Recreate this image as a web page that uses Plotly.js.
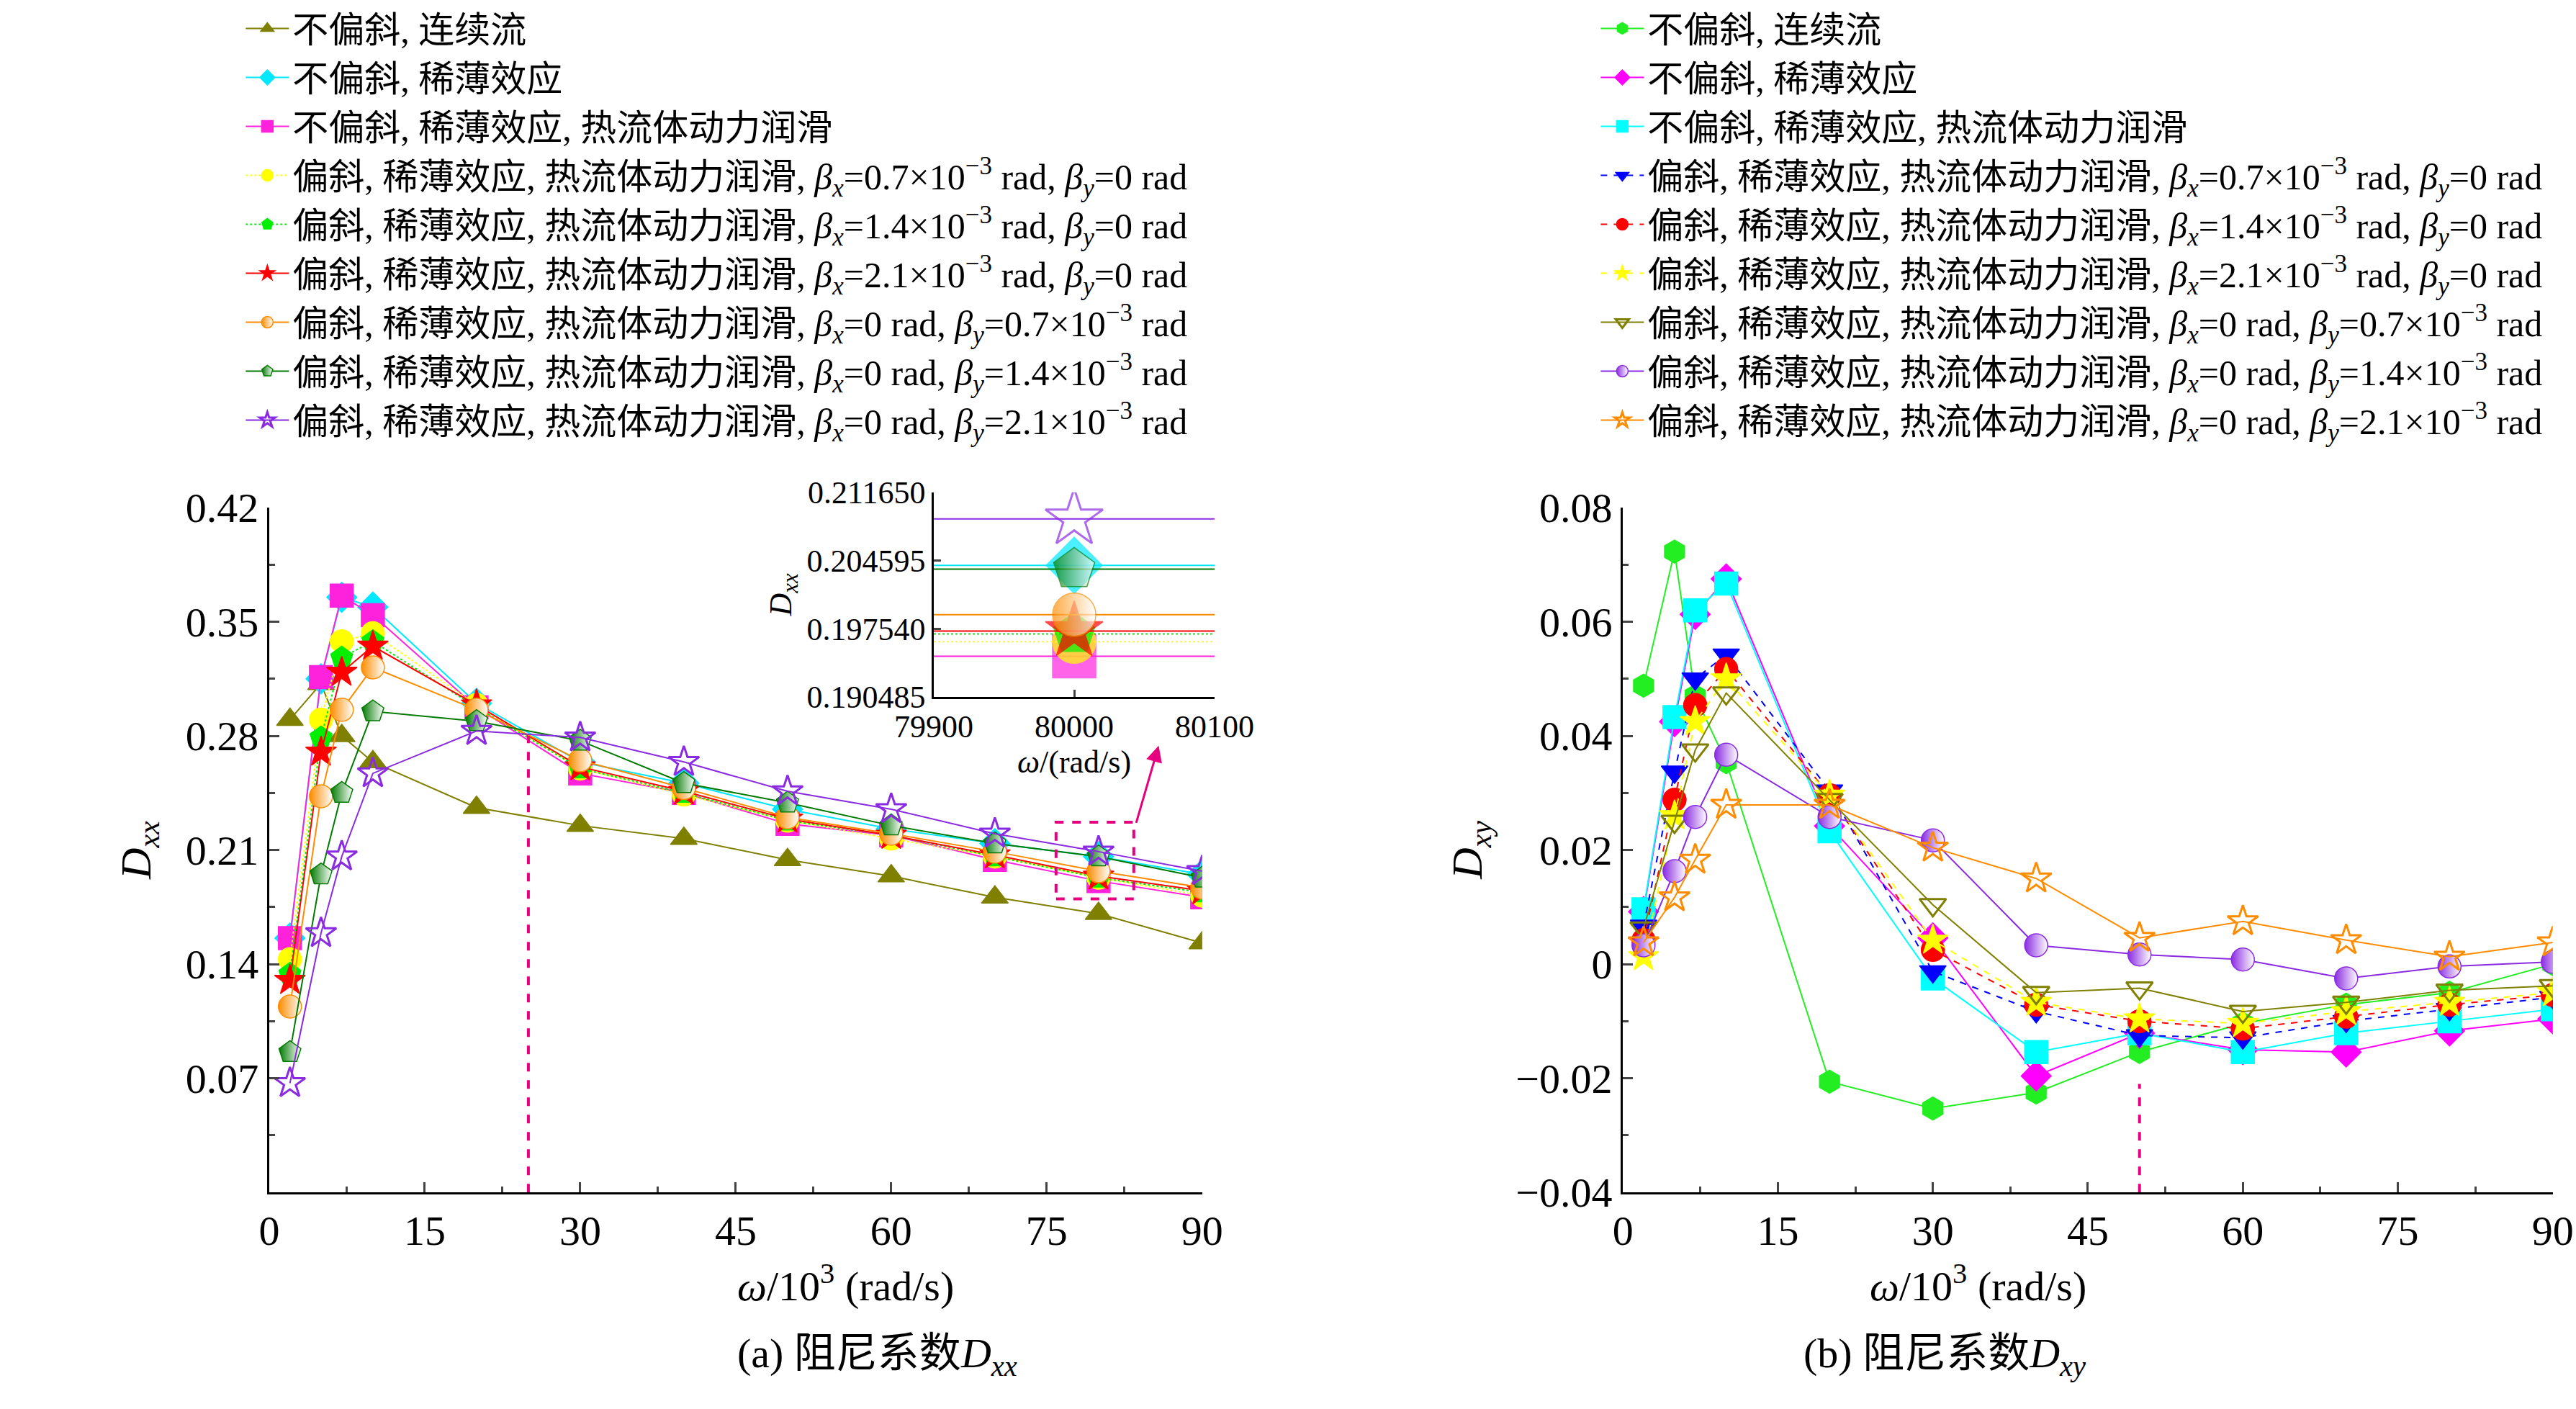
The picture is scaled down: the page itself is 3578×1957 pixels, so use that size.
<!DOCTYPE html>
<html><head><meta charset="utf-8">
<script src="https://cdn.plot.ly/plotly-3.0.1.min.js"></script>
<style>body{margin:0}#g{width:3578px;height:1957px}</style></head>
<body><div id="g"></div><script>
const omega=[2,5,7,10,20,30,40,50,60,70,80,90];
const namesA=["不偏斜, 连续流","不偏斜, 稀薄效应","不偏斜, 稀薄效应, 热流体动力润滑",
"偏斜, 稀薄效应, 热流体动力润滑, <i>β<sub>x</sub></i>=0.7×10<sup>−3</sup> rad, <i>β<sub>y</sub></i>=0 rad",
"偏斜, 稀薄效应, 热流体动力润滑, <i>β<sub>x</sub></i>=1.4×10<sup>−3</sup> rad, <i>β<sub>y</sub></i>=0 rad",
"偏斜, 稀薄效应, 热流体动力润滑, <i>β<sub>x</sub></i>=2.1×10<sup>−3</sup> rad, <i>β<sub>y</sub></i>=0 rad",
"偏斜, 稀薄效应, 热流体动力润滑, <i>β<sub>x</sub></i>=0 rad, <i>β<sub>y</sub></i>=0.7×10<sup>−3</sup> rad",
"偏斜, 稀薄效应, 热流体动力润滑, <i>β<sub>x</sub></i>=0 rad, <i>β<sub>y</sub></i>=1.4×10<sup>−3</sup> rad",
"偏斜, 稀薄效应, 热流体动力润滑, <i>β<sub>x</sub></i>=0 rad, <i>β<sub>y</sub></i>=2.1×10<sup>−3</sup> rad"];
const Dxx=[
[0.290,0.312,0.280,0.264,0.236,0.225,0.217,0.204,0.194,0.181,0.171,0.153],
[0.156,0.315,0.365,0.359,0.300,0.264,0.251,0.235,0.223,0.214,0.206,0.195],
[0.156,0.316,0.366,0.354,0.2975,0.257,0.245,0.226,0.219,0.204,0.191,0.181],
[0.143,0.290,0.338,0.343,0.299,0.260,0.244,0.228,0.217,0.206,0.193,0.182],
[0.134,0.279,0.328,0.338,0.2975,0.260,0.245,0.228,0.219,0.206,0.193,0.184],
[0.130,0.270,0.319,0.335,0.299,0.261,0.246,0.229,0.219,0.207,0.194,0.185],
[0.114,0.243,0.296,0.322,0.296,0.265,0.248,0.230,0.220,0.209,0.197,0.187],
[0.086,0.195,0.245,0.295,0.289,0.277,0.251,0.239,0.225,0.214,0.206,0.193],
[0.067,0.159,0.206,0.257,0.283,0.279,0.264,0.246,0.235,0.220,0.209,0.197]];
const insetX=[79900,80000,80100];
const insetVals=[null,0.2041,0.1947,0.1962,0.1970,0.1973,0.1990,0.2037,0.2089];
const Dxy=[
[0.0488,0.0723,0.047,0.0354,-0.0206,-0.0253,-0.0225,-0.0154,-0.0104,-0.0071,-0.005,0.0],
[0.0092,0.0425,0.0613,0.0675,0.0242,0.0046,-0.0196,-0.0121,-0.015,-0.0154,-0.0117,-0.0096],
[0.0096,0.0433,0.062,0.0667,0.0233,-0.0025,-0.0154,-0.0121,-0.0154,-0.0121,-0.010,-0.0079],
[0.0067,0.0337,0.050,0.0542,0.0304,-0.0013,-0.0083,-0.0125,-0.0129,-0.010,-0.0079,-0.0058],
[0.0042,0.0288,0.0454,0.0517,0.0296,0.0025,-0.0071,-0.010,-0.0113,-0.0092,-0.0071,-0.0054],
[0.0013,0.026,0.0425,0.050,0.0296,0.0042,-0.0067,-0.0096,-0.0104,-0.0083,-0.0067,-0.005],
[0.0063,0.025,0.0375,0.0475,0.0288,0.0104,-0.005,-0.0042,-0.0083,-0.0067,-0.0046,-0.0038],
[0.0033,0.0163,0.0258,0.0367,0.0258,0.0217,0.0033,0.0017,0.0008,-0.0025,-0.0004,0.0004],
[0.0038,0.0117,0.0183,0.0279,0.0279,0.0204,0.015,0.0046,0.0075,0.0042,0.0013,0.0038]];
const namesB=["不偏斜, 连续流","不偏斜, 稀薄效应","不偏斜, 稀薄效应, 热流体动力润滑"].concat(namesA.slice(3));

const stA=[
{c:'#808000',s:'triangle-up',d:'solid'},{c:'#00e8ff',s:'diamond',d:'solid'},{c:'#ff22dd',s:'square',d:'solid'},
{c:'#ffff00',s:'circle',d:'dot'},{c:'#00ee00',s:'pentagon',d:'dot'},{c:'#ff0000',s:'star',d:'solid'},
{c:'#ff8c00',s:'circle',d:'solid',g:1},{c:'#007a00',s:'pentagon',d:'solid',g:1},{c:'#8a2be2',s:'star-open',d:'solid'}];
const stB=[
{c:'#22ee22',s:'hexagon',d:'solid'},{c:'#ff00ff',s:'diamond',d:'solid'},{c:'#00ffff',s:'square',d:'solid'},
{c:'#0000ff',s:'triangle-down',d:'dash'},{c:'#ff0000',s:'circle',d:'dash'},{c:'#ffff00',s:'star',d:'dash'},
{c:'#808000',s:'triangle-down-open',d:'solid'},{c:'#8a2be2',s:'circle',d:'solid',g:1},{c:'#ff8c00',s:'star-open',d:'solid'}];

function mk(st,size){const m={symbol:st.s,color:st.c,size:size,line:{color:st.c,width:st.s.includes('open')?3:1.5}};
 if(st.g){m.gradient={type:'horizontal',color:'#ffffff'};}return m;}
const traces=[];
Dxx.forEach((v,i)=>traces.push({x:omega,y:v,name:namesA[i],mode:'lines+markers',line:{color:stA[i].c,width:2,dash:stA[i].d},marker:mk(stA[i],32),xaxis:'x',yaxis:'y',legend:'legend'}));
Dxy.forEach((v,i)=>traces.push({x:omega,y:v,name:namesB[i],mode:'lines+markers',line:{color:stB[i].c,width:2,dash:stB[i].d},marker:mk(stB[i],32),xaxis:'x2',yaxis:'y2',legend:'legend2'}));
insetVals.forEach((v,i)=>{if(v===null)return;traces.push({x:insetX,y:[v,v,v],mode:'lines+markers',showlegend:false,line:{color:stA[i].c,width:2,dash:stA[i].d},marker:Object.assign(mk(stA[i],0),{size:[0,60,0]}),xaxis:'x3',yaxis:'y3'});});

const F='Liberation Serif, Noto Sans CJK SC';
const ax={showline:true,linecolor:'#000',linewidth:3,ticks:'inside',ticklen:14,tickwidth:3,showgrid:false,zeroline:false,tickfont:{family:F,size:58,color:'#000'}};
const yd=[0.155,0.645];
const layout={width:3578,height:1957,margin:{l:0,r:0,t:0,b:0},paper_bgcolor:'#fff',plot_bgcolor:'rgba(0,0,0,0)',font:{family:F,color:'#000'},
xaxis:Object.assign({},ax,{domain:[0.1045,0.4667],range:[0,90],tickvals:[0,15,30,45,60,75,90],minor:{dtick:7.5,ticks:'inside',ticklen:8,tickwidth:3}}),
yaxis:Object.assign({},ax,{domain:yd,range:[0,0.42],tickvals:[0.07,0.14,0.21,0.28,0.35,0.42],ticktext:['0.07','0.14','0.21','0.28','0.35','0.42'],minor:{tickvals:[0.035,0.105,0.175,0.245,0.315,0.385],ticks:'inside',ticklen:8,tickwidth:3}}),
xaxis2:Object.assign({},ax,{domain:[0.630,0.991],range:[0,90],tickvals:[0,15,30,45,60,75,90],anchor:'y2',minor:{dtick:7.5,ticks:'inside',ticklen:8,tickwidth:3}}),
yaxis2:Object.assign({},ax,{domain:yd,range:[-0.04,0.08],anchor:'x2',tickvals:[-0.04,-0.02,0,0.02,0.04,0.06,0.08],ticktext:['−0.04','−0.02','0','0.02','0.04','0.06','0.08'],minor:{dtick:0.01,ticks:'inside',ticklen:8,tickwidth:3}}),
xaxis3:Object.assign({},ax,{domain:[0.3625,0.4715],range:[79900,80100],anchor:'y3',tickvals:[79900,80000,80100],ticktext:['79900','80000','80100'],tickfont:{family:F,size:44},linewidth:2.5,ticklen:10,
 title:{text:'<i>ω</i>/(rad/s)',font:{family:F,size:44},standoff:6}}),
yaxis3:Object.assign({},ax,{domain:[0.5095,0.656],range:[0.190485,0.21165],anchor:'x3',tickvals:[0.190485,0.19754,0.204595,0.21165],ticktext:['0.190485','0.197540','0.204595','0.211650'],tickfont:{family:F,size:44},linewidth:2.5,ticklen:10,
 title:{text:'<i>D<sub>xx</sub></i>',font:{family:F,size:44},standoff:8}}),
legend:{x:0.094,y:1.008,xanchor:'left',yanchor:'top',font:{family:F,size:50},bgcolor:'rgba(0,0,0,0)',tracegroupgap:0,itemwidth:60},
legend2:{x:0.620,y:1.008,xanchor:'left',yanchor:'top',font:{family:F,size:50},bgcolor:'rgba(0,0,0,0)',tracegroupgap:0,itemwidth:60},
shapes:[
{type:'line',xref:'x',yref:'y',x0:25,x1:25,y0:0,y1:0.28,line:{color:'#e6007e',width:4,dash:'dash'}},
{type:'rect',xref:'x',yref:'y',x0:75.9,x1:83.4,y0:0.180,y1:0.227,line:{color:'#e6007e',width:4,dash:'dash'}},
{type:'line',xref:'x2',yref:'y2',x0:50,x1:50,y0:-0.04,y1:-0.021,line:{color:'#e6007e',width:4,dash:'dash'}}],
annotations:[
{xref:'x',yref:'y',x:85.8,y:0.274,ax:83.6,ay:0.226,axref:'x',ayref:'y',showarrow:true,arrowhead:2,arrowsize:1.5,arrowwidth:3,arrowcolor:'#e6007e',text:''},
{xref:'paper',yref:'paper',x:0.2856,y:0.07,text:'<i>ω</i>/10<sup>3</sup> (rad/s)',showarrow:false,font:{size:58}},
{xref:'paper',yref:'paper',x:0.8105,y:0.07,text:'<i>ω</i>/10<sup>3</sup> (rad/s)',showarrow:false,font:{size:58}},
{xref:'paper',yref:'paper',x:0.2856,y:0.018,text:'(a) 阻尼系数<i>D<sub>xx</sub></i>',showarrow:false,font:{size:58}},
{xref:'paper',yref:'paper',x:0.8105,y:0.018,text:'(b) 阻尼系数<i>D<sub>xy</sub></i>',showarrow:false,font:{size:58}},
{xref:'paper',yref:'paper',x:0.043,y:0.40,text:'<i>D<sub>xx</sub></i>',textangle:-90,showarrow:false,font:{size:60}},
{xref:'paper',yref:'paper',x:0.571,y:0.40,text:'<i>D<sub>xy</sub></i>',textangle:-90,showarrow:false,font:{size:60}}]};
Plotly.newPlot('g',traces,layout,{displayModeBar:false});
</script></body></html>
